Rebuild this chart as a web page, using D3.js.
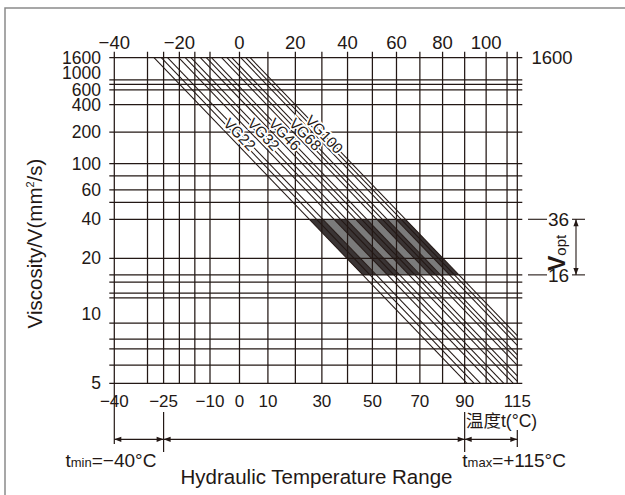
<!DOCTYPE html>
<html><head><meta charset="utf-8">
<script src="https://cdn.jsdelivr.net/npm/d3@7"></script>
<style>body{margin:0;background:#fff} svg{display:block}</style>
</head><body><svg id="c" width="625" height="495"></svg>
<script>
// ---------------- data ----------------
const gridTemps = [-40,-30,-25,-20,-15,-10,0,10,20,30,40,50,60,70,80,90,100,110,115];
const topTickTemps = [-40,-20,0,20,40,60,80,100];
const bottomTickTemps = [-40,-25,-10,0,10,30,50,70,90,115];
const gridVisc = [1600,800,700,600,400,200,100,78,60,48,36,20,16,14.6,12.7,12,9,7.6,6.9,5.9,5];
const leftTickLabels = ["1600","1000","600","400","200","100","60","40","20","10","5"];
const leftTickAt = [1600,1000,600,400,200,100,60,36,20,10,5];
const grades = ["VG22","VG32","VG46","VG68","VG100"];
// viscosity (mm²/s) at 40 °C and 100 °C: min, nominal, max of each grade
const v40Min  = [19.8, 28.8, 41.4, 61.2, 90];
const v40Nom  = [22, 32, 46, 68, 100];
const v40Max  = [24.2, 35.2, 50.6, 74.8, 110];
const v100Min = [4.22, 5.26, 6.49, 8.11, 10.08];
const v100Nom = [4.49, 5.59, 6.89, 8.61, 10.69];
const v100Max = [4.75, 5.91, 7.28, 9.08, 11.27];
const vOpt = [36,16];
const tRange = [-40,-25,90,115];

// ---------------- setup ----------------
const ink = "#231815";
const font = "'Liberation Sans', Arial, sans-serif";
const svg = d3.select("#c");
const K = t => t + 273.15;
const x = d3.scaleLog().domain([K(-40), K(115)]).range([114.3, 517.3]);
const walther = v => Math.log10(Math.log10(v + 0.7));
const yW = d3.scaleLinear().domain([walther(5), walther(1600)]).range([383.3, 57.7]);
const y = v => yW(walther(v));
const xL = x(K(-40)), xR = x(K(115)), yT = y(1600), yB = y(5);
const fmt = t => t < 0 ? "\u2212" + Math.abs(t) : String(t);

// frame
svg.append("path").attr("d", `M5,495V8H630`).attr("fill","none").attr("stroke","#8a8a8a").attr("stroke-width",1.5);

// ---------------- viscosity-temperature lines (Walther: straight lines) ----------------
const lx40 = Math.log10(K(40)), lx100 = Math.log10(K(100));
const lxMin = Math.log10(K(-40)), lxMax = Math.log10(K(115));
function makeLine(v40, v100){
  const w40 = walther(v40), w100 = walther(v100);
  const m = (w100 - w40) / (lx100 - lx40);
  const lxAt = v => lx40 + (walther(v) - w40) / m;
  const pt = lx => [x(Math.pow(10, lx)), yW(w40 + m * (lx - lx40))];
  const atV = v => pt(lxAt(v));
  const s = Math.max(lxAt(1600), lxMin), e = Math.min(lxAt(5), lxMax);
  return {pt, atV, s, e};
}
const gl = grades.map((g,i) => ({
  min: makeLine(v40Min[i], v100Min[i]),
  nom: makeLine(v40Nom[i], v100Nom[i]),
  max: makeLine(v40Max[i], v100Max[i])
}));

// shaded optimum band: dark inside each grade, grey between grades
const band = svg.append("g");
const bounds = [];
gl.forEach(g => { bounds.push(g.min); bounds.push(g.max); });
for (let i = 0; i < bounds.length - 1; i++) {
  const a = bounds[i], b = bounds[i+1];
  const pts = [a.atV(vOpt[0]), b.atV(vOpt[0]), b.atV(vOpt[1]), a.atV(vOpt[1])];
  band.append("path").attr("d", d3.line()(pts) + "Z")
    .attr("fill", i % 2 === 0 ? "#3a3434" : "#7b7b7b");
}

// grid
const grid = svg.append("g").attr("stroke", ink).attr("stroke-width", 1.25);
gridVisc.forEach(v => {
  grid.append("line").attr("x1", xL - 5).attr("x2", xR + 5).attr("y1", y(v)).attr("y2", y(v));
});
gridTemps.forEach(t => {
  grid.append("line").attr("x1", x(K(t))).attr("x2", x(K(t))).attr("y1", yT - 6).attr("y2", yB);
});

// diagonal lines
const diag = svg.append("g").attr("stroke", ink).attr("stroke-width", 1.05).attr("fill","none");
gl.forEach(g => [g.min, g.nom, g.max].forEach(L => {
  const p1 = L.pt(L.s), p2 = L.pt(L.e);
  diag.append("line").attr("x1", p1[0]).attr("y1", p1[1]).attr("x2", p2[0]).attr("y2", p2[1]);
}));

// grade labels along the nominal line
grades.forEach((g,i) => {
  const L = gl[i].nom;
  const p = L.atV(180), q = L.atV(100);
  const dx = q[0]-p[0], dy = q[1]-p[1], n = Math.hypot(dx, dy);
  const ang = Math.atan2(dy, dx) * 180 / Math.PI;
  const ox = dy / n * 3.6, oy = -dx / n * 3.6;   // shift to upper-right side of the line
  svg.append("text").attr("transform", `translate(${p[0]+ox},${p[1]+oy}) rotate(${ang})`)
    .attr("text-anchor","middle").attr("dy","0.36em")
    .attr("font-family", font).attr("font-size", 15).attr("fill", ink)
    .attr("stroke","#fff").attr("stroke-width",3.2).attr("paint-order","stroke")
    .text(g);
});

// ---------------- axis labels ----------------
const txt = (sel) => sel.attr("font-family", font).attr("fill", ink);
topTickTemps.forEach(t => {
  svg.append("text").call(txt).attr("x", x(K(t))).attr("y", 48.5).attr("text-anchor","middle")
    .attr("font-size", 18.5).text(fmt(t));
});
bottomTickTemps.forEach(t => {
  svg.append("text").call(txt).attr("x", x(K(t))).attr("y", 407).attr("text-anchor","middle")
    .attr("font-size", 17).text(fmt(t));
});
leftTickLabels.forEach((s,i) => {
  svg.append("text").call(txt).attr("x", 101).attr("y", y(leftTickAt[i]) + 6).attr("text-anchor","end")
    .attr("font-size", 17.5).text(s);
});
svg.append("text").call(txt).attr("x", 531.5).attr("y", yT + 6.5).attr("font-size", 18.5).text("1600");

// y title
const yt = svg.append("text").call(txt).attr("transform","translate(41.5,243.5) rotate(-90)")
  .attr("text-anchor","middle").attr("font-size", 20.5);
yt.append("tspan").text("Viscosity/V(mm");
yt.append("tspan").attr("font-size", 11).attr("dy", -8).text("2");
yt.append("tspan").attr("dy", 8).text("/s)");

// ---------------- V_opt annotation ----------------
const ann = svg.append("g").attr("stroke", ink).attr("stroke-width", 1.1);
vOpt.forEach(v => {
  ann.append("line").attr("x1", 528).attr("x2", 547).attr("y1", y(v)).attr("y2", y(v));
  ann.append("line").attr("x1", 572).attr("x2", 585).attr("y1", y(v)).attr("y2", y(v));
  svg.append("text").call(txt).attr("x", 548).attr("y", y(v) + 7).attr("font-size", 19).text(v);
});
ann.append("line").attr("x1", 576).attr("x2", 576).attr("y1", y(vOpt[0])).attr("y2", y(vOpt[1]));
function arrow(tx, ty, dx, dy){ // tip at (tx,ty) pointing in direction (dx,dy)
  const len = 7, hw = 2.6, bx = tx - dx*len, by = ty - dy*len;
  svg.append("path").attr("d", `M${tx},${ty}L${bx - dy*hw},${by + dx*hw}L${bx + dy*hw},${by - dx*hw}Z`).attr("fill", ink);
}
arrow(576, y(vOpt[0]), 0, -1);
arrow(576, y(vOpt[1]), 0, 1);
const vo = svg.append("text").call(txt).attr("transform","translate(565,271) rotate(-90)");
vo.append("tspan").attr("font-size", 23).attr("font-weight","bold").text("V");
vo.append("tspan").attr("font-size", 15).attr("dy", 1).text("opt");

// ---------------- temperature range dimension ----------------
const dimY = 439.3;
const dim = svg.append("g").attr("stroke", ink).attr("stroke-width", 1.2);
dim.append("line").attr("x1", x(K(tRange[0]))).attr("x2", x(K(tRange[3]))).attr("y1", dimY).attr("y2", dimY);
dim.append("line").attr("x1", x(K(tRange[0]))).attr("x2", x(K(tRange[0]))).attr("y1", yB).attr("y2", 444);
dim.append("line").attr("x1", x(K(tRange[1]))).attr("x2", x(K(tRange[1]))).attr("y1", 412).attr("y2", 452);
dim.append("line").attr("x1", x(K(tRange[2]))).attr("x2", x(K(tRange[2]))).attr("y1", 412).attr("y2", 452);
dim.append("line").attr("x1", x(K(tRange[3]))).attr("x2", x(K(tRange[3]))).attr("y1", 430).attr("y2", 447);
arrow(x(K(tRange[0])), dimY, -1, 0);
arrow(x(K(tRange[1])), dimY, 1, 0);
arrow(x(K(tRange[1])), dimY, -1, 0);
arrow(x(K(tRange[2])), dimY, 1, 0);
arrow(x(K(tRange[2])), dimY, -1, 0);
arrow(x(K(tRange[3])), dimY, 1, 0);

svg.append("text").call(txt).attr("x", 466).attr("y", 427).attr("font-size", 17.5)
  .attr("font-family", "'Liberation Sans','Noto Sans CJK SC',sans-serif").text("温度t(°C)");

const tmin = svg.append("text").call(txt).attr("x", 65.5).attr("y", 467).attr("font-size", 19);
tmin.append("tspan").text("t");
tmin.append("tspan").attr("font-size", 13).text("min");
tmin.append("tspan").text("=" + fmt(tRange[0]) + "°C");
const tmax = svg.append("text").call(txt).attr("x", 462.3).attr("y", 467).attr("font-size", 19);
tmax.append("tspan").text("t");
tmax.append("tspan").attr("font-size", 13).text("max");
tmax.append("tspan").text("=+" + tRange[3] + "°C");

svg.append("text").call(txt).attr("x", 316.5).attr("y", 484).attr("text-anchor","middle")
  .attr("font-size", 20.5).text("Hydraulic Temperature Range");
</script></body></html>
